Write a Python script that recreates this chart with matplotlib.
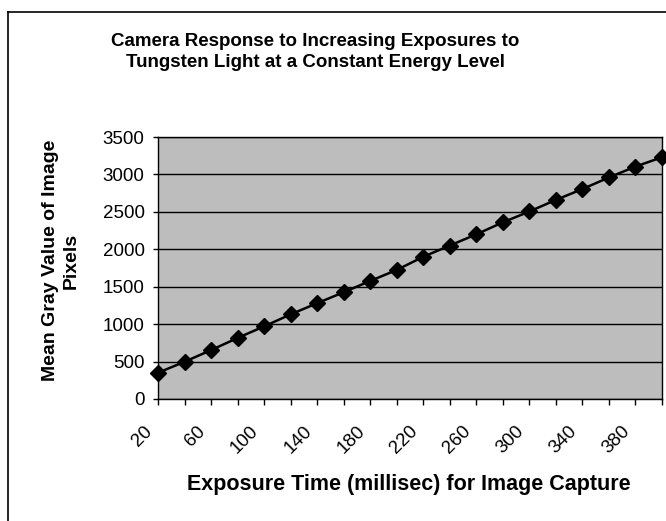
import matplotlib.pyplot as plt
from matplotlib.lines import Line2D
from matplotlib.transforms import ScaledTranslation

# exposure time (ms) and mean gray value
exposure_ms = [20, 40, 60, 80, 100, 120, 140, 160, 180, 200,
               220, 240, 260, 280, 300, 320, 340, 360, 380, 400]
mean_gray = [350, 497, 653, 815, 970, 1130, 1280, 1426, 1577, 1724,
             1900, 2050, 2200, 2360, 2505, 2660, 2805, 2960, 3105, 3230]

x_tick_labels = ["20", "60", "100", "140", "180", "220", "260", "300", "340", "380"]
y_ticks = [0, 500, 1000, 1500, 2000, 2500, 3000, 3500]

plt.rcParams['font.family'] = ['Liberation Sans', 'DejaVu Sans']

fig = plt.figure(figsize=(6.66, 5.21), dpi=100)
ax = fig.add_axes([0.2372, 0.2342, 0.7568, 0.5028])
ax.set_facecolor('#bdbdbd')

ax.plot(exposure_ms, mean_gray, color='black', lw=1.8, marker='D',
        markersize=8.5, zorder=3, clip_on=False)

ax.set_xlim(20, 400)
ax.set_ylim(0, 3500)
ax.set_yticks(y_ticks)
ax.set_yticklabels([str(v) for v in y_ticks], fontsize=13.5)
ax.yaxis.grid(True, color='black', lw=1)
ax.set_axisbelow(True)

ax.set_xticks(exposure_ms[::2])
ax.set_xticks(exposure_ms[1::2], minor=True)
ax.set_xticklabels(x_tick_labels, fontsize=13.5, rotation=45, ha='right',
                   va='center', rotation_mode='anchor')

ax.tick_params(axis='x', which='both', direction='out', length=4.3, width=1, pad=17)
ax.tick_params(axis='y', direction='out', length=3.6, width=1, pad=6)

# nudge the slanted labels left, like Excel does (after tick_params, which resets transforms)
shift = ScaledTranslation(-0.08, 0, fig.dpi_scale_trans)
for lbl in ax.get_xticklabels():
    lbl.set_transform(lbl.get_transform() + shift)

for s in ax.spines.values():
    s.set_color('black')
    s.set_linewidth(1)

fig.text(0.473, 1 - 46 / 521, "Camera Response to Increasing Exposures to",
         ha='center', va='baseline', fontsize=13.5, fontweight='bold')
fig.text(0.473, 1 - 67 / 521, "Tungsten Light at a Constant Energy Level",
         ha='center', va='baseline', fontsize=13.5, fontweight='bold')
fig.text(0.0916, 0.5, "Mean Gray Value of Image\nPixels", rotation=90,
         ha='center', va='center', fontsize=14, fontweight='bold', linespacing=1.3)
fig.text(0.614, 1 - 490 / 521, "Exposure Time (millisec) for Image Capture",
         ha='center', va='baseline', fontsize=15.5, fontweight='bold')

# chart area frame (left and top edges visible)
fig.add_artist(Line2D([8 / 666, 8 / 666], [0, 1 - 12 / 521], color='black', lw=1.2))
fig.add_artist(Line2D([8 / 666, 1], [1 - 12 / 521, 1 - 12 / 521], color='black', lw=1.2))

fig.savefig('out.png', dpi=100)
